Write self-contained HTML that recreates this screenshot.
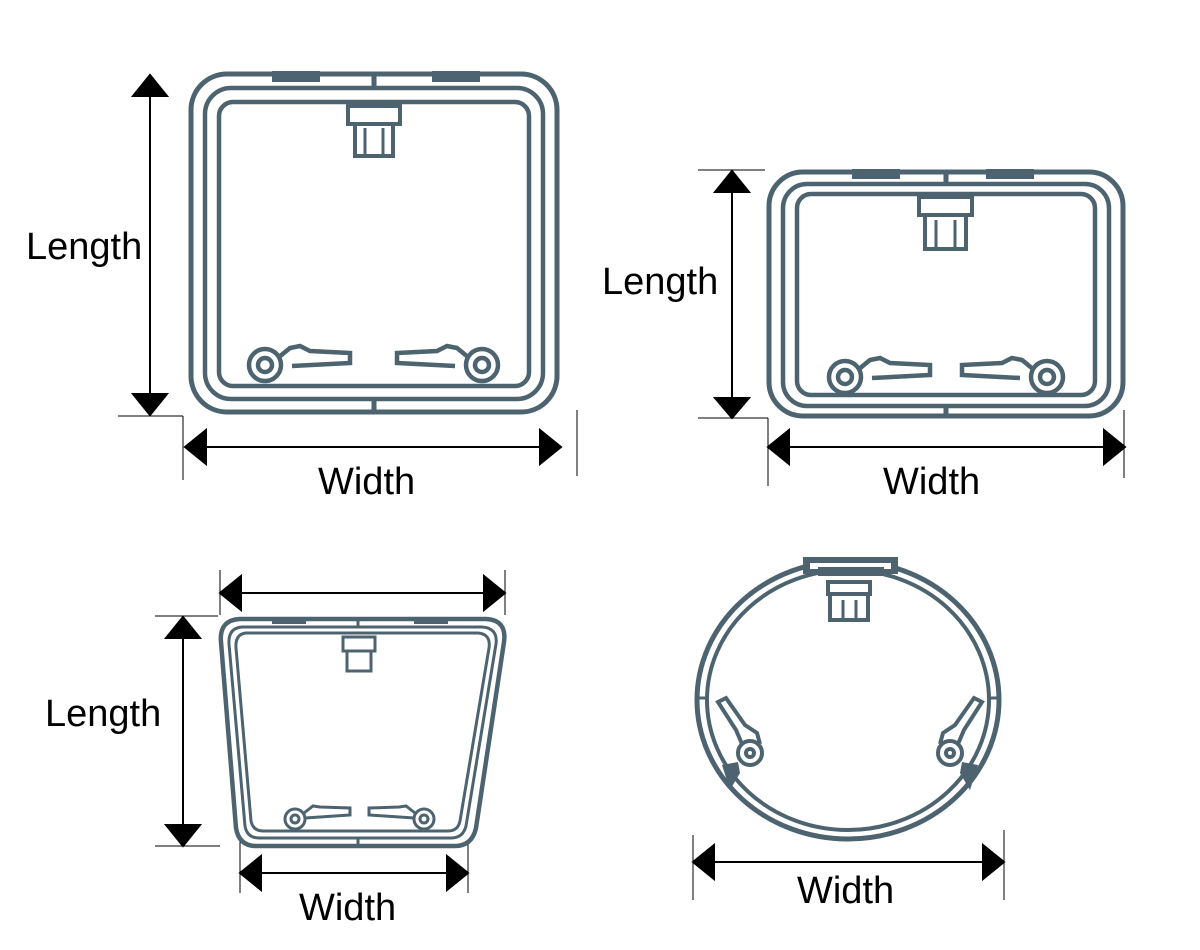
<!DOCTYPE html>
<html><head><style>body{margin:0;background:#fff}svg{display:block}text{font-family:"Liberation Sans",sans-serif;fill:#000}</style></head><body>
<svg width="1200" height="950" viewBox="0 0 1200 950">
<g stroke="#000" stroke-width="2" fill="#000">
<line x1="150" y1="78" x2="150" y2="412"/>
<path d="M133,96L150,75L167,96z M133,394L150,415L167,394z"/>
<line x1="118" y1="416" x2="183" y2="416" stroke-width="1"/>
<line x1="183" y1="416" x2="183" y2="480" stroke-width="1"/>
<line x1="577" y1="410" x2="577" y2="476" stroke-width="1"/>
<line x1="188" y1="447" x2="558" y2="447"/>
<path d="M206,430L185,447L206,464z M540,430L561,447L540,464z"/>
<line x1="732" y1="173" x2="732" y2="415"/>
<path d="M715,192L732,171L749,192z M715,398L732,418L749,398z"/>
<line x1="698" y1="170" x2="765" y2="170" stroke-width="1"/>
<line x1="698" y1="418" x2="768" y2="418" stroke-width="1"/>
<line x1="768" y1="418" x2="768" y2="486" stroke-width="1"/>
<line x1="1124" y1="410" x2="1124" y2="478" stroke-width="1"/>
<line x1="772" y1="447" x2="1120" y2="447"/>
<path d="M789,430L768,447L789,464z M1104,430L1125,447L1104,464z"/>
<line x1="220" y1="570" x2="220" y2="615" stroke-width="1"/>
<line x1="505" y1="570" x2="505" y2="615" stroke-width="1"/>
<line x1="224" y1="593" x2="501" y2="593"/>
<path d="M241,576L220,593L241,610z M484,576L505,593L484,610z"/>
<line x1="183" y1="620" x2="183" y2="842"/>
<path d="M166,638L183,617L200,638z M166,825L183,846L200,825z"/>
<line x1="155" y1="616" x2="218" y2="616" stroke-width="1"/>
<line x1="155" y1="846" x2="220" y2="846" stroke-width="1"/>
<line x1="240" y1="840" x2="240" y2="893" stroke-width="1"/>
<line x1="468" y1="840" x2="468" y2="893" stroke-width="1"/>
<line x1="244" y1="873" x2="464" y2="873"/>
<path d="M261,856L240,873L261,890z M447,856L468,873L447,890z"/>
<line x1="693" y1="835" x2="693" y2="900" stroke-width="1"/>
<line x1="1004" y1="830" x2="1004" y2="900" stroke-width="1"/>
<line x1="697" y1="862" x2="1000" y2="862"/>
<path d="M714,845L693,862L714,879z M983,845L1004,862L983,879z"/>
</g>
<g font-size="38">
<text x="26" y="259">Length</text>
<text x="318" y="494">Width</text>
<text x="602" y="294">Length</text>
<text x="883" y="494">Width</text>
<text x="45" y="726">Length</text>
<text x="299" y="920">Width</text>
<text x="797" y="903">Width</text>
</g>
<g stroke="#4d6470" fill="none" stroke-width="5">
<rect x="191" y="74" width="366" height="338" rx="36"/>
<rect x="205" y="88" width="338" height="311" rx="26" stroke-width="4.5"/>
<rect x="219" y="102" width="310" height="284" rx="14" stroke-width="4.5"/>
<line x1="374" y1="72" x2="374" y2="88"/><line x1="374" y1="399" x2="374" y2="414"/>
<rect x="348" y="106" width="52" height="18" stroke-width="4"/>
<rect x="355" y="124" width="38" height="32" stroke-width="4"/>
<line x1="365" y1="128" x2="365" y2="156" stroke-width="3"/><line x1="383" y1="128" x2="383" y2="156" stroke-width="3"/>
<g id="L1" stroke-width="4.5"><circle cx="265" cy="365" r="16"/><circle cx="265" cy="365" r="7"/><path d="M279,357L290,348L300,346L310,351L350,353L350,363L292,366"/></g>
<g transform="translate(747,0) scale(-1,1)"><use href="#L1"/></g>
<rect x="769" y="172" width="354" height="244" rx="34"/>
<rect x="783" y="184" width="326" height="222" rx="24" stroke-width="4.5"/>
<rect x="797" y="194" width="298" height="201" rx="14" stroke-width="4.5"/>
<line x1="946" y1="170" x2="946" y2="184"/><line x1="946" y1="406" x2="946" y2="418"/>
<rect x="919" y="197" width="53" height="18" stroke-width="4"/>
<rect x="925" y="215" width="41" height="34" stroke-width="4"/>
<line x1="936" y1="220" x2="936" y2="249" stroke-width="3"/><line x1="955" y1="220" x2="955" y2="249" stroke-width="3"/>
<g transform="translate(580,12)"><use href="#L1"/></g>
<g transform="translate(1312,12) scale(-1,1)"><use href="#L1"/></g>
<path d="M240,619L486,619Q507,620 504,642L476,828Q472,846 455,846L256,846Q239,846 236,828L221,642Q219,620 240,619Z" stroke-width="4.5"/>
<path d="M242,627L482,627Q498,628 496,644L466,826Q463,838 451,838L259,838Q247,838 245,826L229,644Q228,628 242,627Z" stroke-width="3"/>
<path d="M246,633L478,633Q491,634 489,648L460,821Q458,831 448,831L263,831Q253,831 251,821L236,648Q235,634 246,633Z" stroke-width="3"/>
<line x1="358" y1="618" x2="358" y2="628" stroke-width="3"/><line x1="358" y1="838" x2="358" y2="846" stroke-width="3"/>
<rect x="343" y="637" width="32" height="14" stroke-width="3"/>
<rect x="347" y="651" width="24" height="20" stroke-width="3"/>
<g stroke-width="3"><circle cx="295" cy="819" r="10"/><circle cx="295" cy="819" r="4"/><path d="M304,813L313,806L320,807L350,808L350,815L305,818"/>
<circle cx="424" cy="819" r="10"/><circle cx="424" cy="819" r="4"/><path d="M415,813L406,806L399,807L369,808L369,815L414,818"/></g>
<ellipse cx="848" cy="700" rx="151" ry="139"/>
<ellipse cx="848" cy="700" rx="141" ry="130" stroke-width="4"/>
<line x1="697" y1="698" x2="709" y2="698" stroke-width="3"/><line x1="988" y1="698" x2="1000" y2="698" stroke-width="3"/>
<rect x="828" y="582" width="42" height="12" stroke-width="4"/>
<rect x="830" y="594" width="38" height="26" stroke-width="4"/>
<line x1="843" y1="600" x2="843" y2="620" stroke-width="3"/><line x1="856" y1="600" x2="856" y2="620" stroke-width="3"/>
<g stroke-width="4"><circle cx="750" cy="753" r="12"/><circle cx="750" cy="753" r="4"/><path d="M742,744L736,730L718,702L726,698L745,725L757,733L760,744"/>
<circle cx="950" cy="753" r="12"/><circle cx="950" cy="753" r="4"/><path d="M958,744L964,730L982,702L974,698L955,725L943,733L940,744"/></g>
</g>
<g fill="#4d6470">
<rect x="272" y="71" width="48" height="11"/><rect x="432" y="71" width="48" height="11"/>
<rect x="852" y="169" width="48" height="10"/><rect x="986" y="169" width="48" height="10"/>
<rect x="272" y="617" width="34" height="7"/><rect x="414" y="617" width="34" height="7"/>
<path d="M803,557L898,557L898,574L803,574Z"/>
<path d="M722,765L738,762L740,773L730,790Z M978,765L962,762L960,773L970,790Z"/>
</g>
<rect x="810" y="563" width="81" height="6" fill="#fff"/>
<rect x="818" y="567" width="66" height="9" fill="#4d6470"/>
</svg>
</body></html>
